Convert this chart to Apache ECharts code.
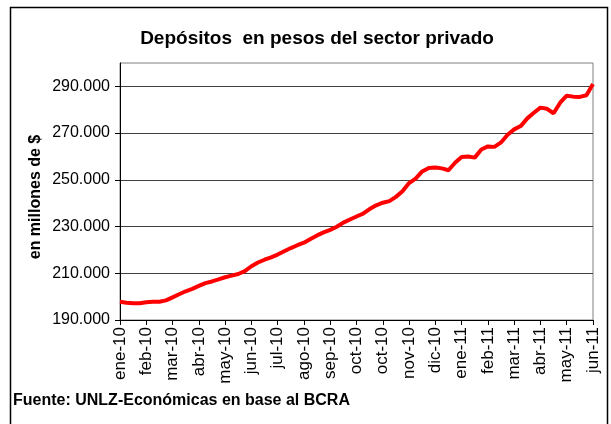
<!DOCTYPE html>
<html>
<head>
<meta charset="utf-8">
<title>Depósitos en pesos del sector privado</title>
<script src="https://cdn.jsdelivr.net/npm/echarts@6/dist/echarts.min.js"></script>
<style>
  html, body { margin: 0; padding: 0; background: #fff; }
  #chart { width: 611px; height: 424px; }
</style>
</head>
<body>
<div id="chart"></div>
<script>
// etiquetas del eje x (una cada 4 puntos)
const monthLabels = [
  'ene-10', 'feb-10', 'mar-10', 'abr-10', 'may-10', 'jun-10', 'jul-10',
  'ago-10', 'sep-10', 'oct-10', 'oct-10', 'nov-10', 'dic-10',
  'ene-11', 'feb-11', 'mar-11', 'abr-11', 'may-11', 'jun-11'
]
const pointsPerLabel = 4

// depósitos en millones de $
const depositos = [
  197800, 197400, 197200, 197200, 197600, 197800, 197800, 198400,
  199700, 201000, 202300, 203300, 204600, 205800, 206500, 207400,
  208300, 209000, 209700, 210900, 213000, 214600, 215800, 216800,
  218000, 219400, 220800, 222000, 223100, 224700, 226200, 227500,
  228600, 229900, 231700, 233000, 234300, 235500, 237500, 239100,
  240200, 240900, 242700, 245100, 248600, 250500, 253600, 255100,
  255300, 254900, 254100, 257300, 259800, 260000, 259500, 263000,
  264300, 264100, 266000, 269300, 271600, 273000, 276300, 278700,
  280900, 280400, 278500, 283000, 286000, 285600, 285500, 286200,
  291000
]

const yTicks = [190000, 210000, 230000, 250000, 270000, 290000]

const categories = depositos.map((v, i) =>
  i % pointsPerLabel === 0 ? monthLabels[i / pointsPerLabel] : ''
)

function fmtMiles (v) {
  return String(v).replace(/\B(?=(\d{3})+(?!\d))/g, '.')
}

const font = 'Liberation Sans, Arial, sans-serif'
const chart = echarts.init(document.getElementById('chart'))

chart.setOption({
  animation: false,
  textStyle: { fontFamily: font },
  title: {
    text: 'Depósitos  en pesos del sector privado',
    left: 312,
    top: 24,
    textAlign: 'center',
    textStyle: { fontSize: 19, fontWeight: 'bold', color: '#000' }
  },
  graphic: [
    {
      type: 'rect',
      shape: { x: 10.5, y: 7.5, width: 597, height: 425 },
      style: { fill: 'none', stroke: '#000', lineWidth: 1.5 },
      silent: true
    },
    {
      // nombre del eje y
      type: 'text',
      x: 36,
      y: 197,
      rotation: Math.PI / 2,
      style: {
        text: 'en millones de $',
        font: 'bold 16px ' + font,
        fill: '#000',
        align: 'center',
        verticalAlign: 'middle'
      }
    },
    {
      type: 'text',
      left: 13,
      top: 393,
      style: {
        text: 'Fuente: UNLZ-Económicas en base al BCRA',
        font: 'bold 16px ' + font,
        fill: '#000'
      }
    }
  ],
  grid: {
    left: 120,
    top: 63,
    right: 18,
    bottom: 104,
    show: true,
    borderColor: '#808080',
    borderWidth: 1,
    containLabel: false
  },
  xAxis: {
    type: 'category',
    data: categories,
    boundaryGap: false,
    axisLine: { lineStyle: { color: '#000', width: 1 } },
    axisTick: {
      interval: pointsPerLabel - 1,
      length: 5,
      lineStyle: { color: '#000' }
    },
    axisLabel: {
      interval: pointsPerLabel - 1,
      rotate: 90,
      margin: 7,
      fontSize: 17,
      color: '#000'
    },
    splitLine: { show: false }
  },
  yAxis: {
    type: 'value',
    min: 190000,
    max: 300000,
    interval: 20000,
    axisLine: { show: true, lineStyle: { color: '#000', width: 1 } },
    axisTick: {
      show: true,
      length: 5,
      customValues: yTicks,
      lineStyle: { color: '#000' }
    },
    axisLabel: {
      margin: 10,
      fontSize: 16,
      color: '#000',
      customValues: yTicks,
      formatter: fmtMiles
    },
    splitLine: { lineStyle: { color: '#404040', width: 1 } }
  },
  series: [
    {
      type: 'line',
      data: depositos,
      showSymbol: false,
      lineStyle: { color: '#ff0000', width: 4 },
      itemStyle: { color: '#ff0000' }
    }
  ]
})
</script>
</body>
</html>
